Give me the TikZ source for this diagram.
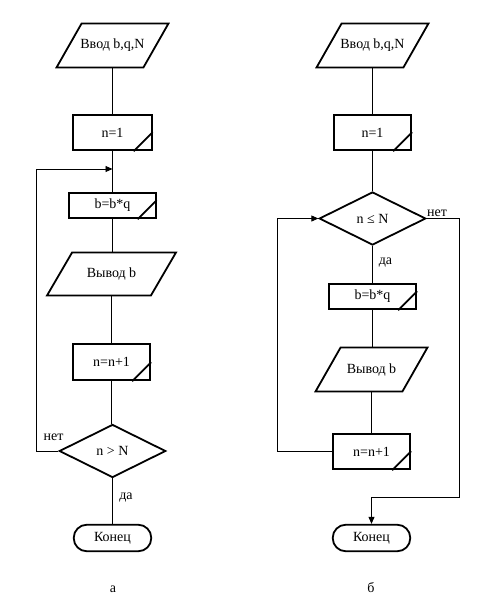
\documentclass[tikz,border=0pt]{standalone}
\usepackage{fontspec}
\setmainfont{Liberation Serif}
\usetikzlibrary{shapes.geometric,arrows.meta}
\begin{document}
\begin{tikzpicture}[x=1pt,y=-1pt,
  font=\fontsize{14}{16}\selectfont,
  shp/.style={line width=1.8pt},
  con/.style={line width=0.9pt},
  arr/.style={con,-{Triangle[length=7pt,width=6pt]}},
  iobox/.style={inner sep=0pt},
  procbox/.style={draw,line width=1.8pt,inner sep=0pt},
  decbox/.style={diamond,draw,line width=1.8pt,inner sep=0pt,minimum width=106.5pt,minimum height=53pt},
  termbox/.style={draw,line width=1.8pt,rounded corners=13pt,inner sep=0pt,minimum width=77.5pt,minimum height=26.5pt},
  lbl/.style={inner sep=0pt}]
\fill[white] (0,0) rectangle (485,603);
\useasboundingbox (0,0) rectangle (485,603);

% ---------- left chart (a) ----------
\node[iobox,minimum width=111.5pt,minimum height=43.5pt] (in1) at (112.5,45.5) {Ввод b,q,N};
\node[procbox,minimum width=78.5pt,minimum height=35.5pt] (n1L) at (112.5,132.5) {n=1};
\node[procbox,minimum width=86.5pt,minimum height=25.5pt] (bL) at (112.5,205.5) {b=b*q};
\node[iobox,minimum width=128.5pt,minimum height=42.5pt] (out1) at (111.5,274) {Вывод b};
\node[procbox,minimum width=77.5pt,minimum height=36.5pt] (incL) at (111.5,362) {n=n+1};
\node[decbox] (dL) at (112.5,451) {n > N};
\node[termbox] (endL) at (112.5,538) {Конец};
\coordinate (jL) at (112.5,169);
\coordinate (loopL) at (36,169);

\draw[con] (in1.south) -- (n1L.north);
\draw[con] (n1L.south) -- (bL.north);
\draw[con] (bL.south) -- (bL.south |- out1.north);
\draw[con] (out1.south) -- (out1.south |- incL.north);
\draw[con] (incL.south) -- (incL.south |- dL.north);
\draw[con] (dL.south) -- (endL.north);
\draw[arr] (dL.west) -| (loopL) -- (jL);

\node[lbl] (netL) at (53.5,437.5) {нет};
\node[lbl] (daL) at (126,498) {да};
\node[lbl] (capA) at (113,589) {а};

% ---------- right chart (b) ----------
\node[iobox,minimum width=111.5pt,minimum height=43.5pt] (in2) at (372.5,45.5) {Ввод b,q,N};
\node[procbox,minimum width=77.5pt,minimum height=35.5pt] (n1R) at (372.5,132.5) {n=1};
\node[decbox] (dR) at (372.5,218.5) {n ≤ N};
\node[procbox,minimum width=87.5pt,minimum height=25.5pt] (bR) at (372.5,296.5) {b=b*q};
\node[iobox,minimum width=111.5pt,minimum height=43.5pt] (out2) at (371.5,369.5) {Вывод b};
\node[procbox,minimum width=77.5pt,minimum height=35.5pt] (incR) at (371.5,451.5) {n=n+1};
\node[termbox] (endR) at (371.5,538) {Конец};
\coordinate (loopR) at (277,218.5);
\coordinate (exitR) at (459,497);

\draw[con] (in2.south) -- (n1R.north);
\draw[con] (n1R.south) -- (dR.north);
\draw[con] (dR.south) -- (bR.north);
\draw[con] (bR.south) -- (bR.south |- out2.north);
\draw[con] (out2.south) -- (incR.north);
\draw[arr] (incR.west) -| (loopR) -- (dR.west);
\draw[arr] (dR.east) -| (exitR) -| (endR.north);

\node[lbl] (netR) at (437,213) {нет};
\node[lbl] (daR) at (385.5,263) {да};
\node[lbl] (capB) at (371,588) {б};

% ---------- parallelogram outlines ----------
\foreach \n in {in1,out1,in2,out2}
  \draw[shp] ([xshift=25pt]\n.north west) -- (\n.north east)
    -- ([xshift=-25pt]\n.south east) -- (\n.south west) -- cycle;
% ---------- corner marks of process boxes ----------
\foreach \n in {n1L,bL,incL,n1R,bR,incR}
  \draw[shp] ([xshift=-19pt]\n.south east) -- ([yshift=19pt]\n.south east);
\end{tikzpicture}
\end{document}
